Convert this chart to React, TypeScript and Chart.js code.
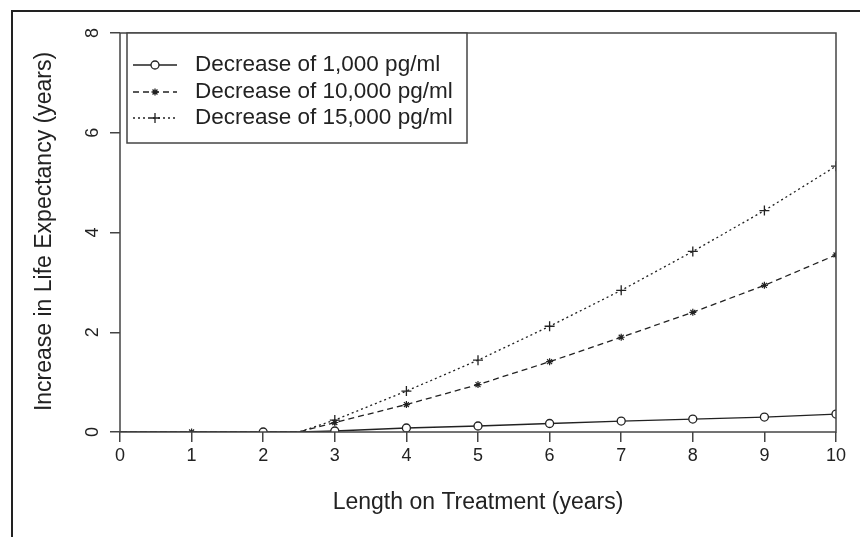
import React, { useEffect, useRef } from "react";
import { Chart, registerables } from "chart.js";
Chart.register(...registerables);

const xValues = [0, 1, 2, 2.5, 3, 4, 5, 6, 7, 8, 9, 10];
const decrease1000 = [0, 0, 0, 0, 0.02, 0.08, 0.12, 0.17, 0.22, 0.26, 0.3, 0.36];
const decrease10000 = [0, 0, 0, 0, 0.19, 0.55, 0.95, 1.41, 1.9, 2.4, 2.94, 3.55];
const decrease15000 = [0, 0, 0, 0, 0.24, 0.82, 1.44, 2.12, 2.84, 3.62, 4.44, 5.33];
const seriesLabels = ["Decrease of 1,000 pg/ml", "Decrease of 10,000 pg/ml", "Decrease of 15,000 pg/ml"];
const xTicks = [0, 1, 2, 3, 4, 5, 6, 7, 8, 9, 10];
const yTicks = [0, 2, 4, 6, 8];
const xTitle = "Length on Treatment (years)";
const yTitle = "Increase in Life Expectancy (years)";

const FONT = '"Liberation Sans", Arial, sans-serif';
const INK = "#222";

function radii(start: number) {
  return xValues.map((x) => (x === 2.5 || x < start ? 0 : 1));
}

function drawMarker(ctx: CanvasRenderingContext2D, kind: string, x: number, y: number) {
  ctx.save();
  ctx.setLineDash([]);
  ctx.strokeStyle = INK;
  ctx.lineWidth = 1.3;
  ctx.beginPath();
  if (kind === "circle") {
    ctx.fillStyle = "#fff";
    ctx.arc(x, y, 4, 0, Math.PI * 2);
    ctx.fill();
    ctx.stroke();
  } else if (kind === "star") {
    const r = 3.5;
    ctx.moveTo(x - r, y); ctx.lineTo(x + r, y);
    ctx.moveTo(x, y - r); ctx.lineTo(x, y + r);
    const d = r * 0.707;
    ctx.moveTo(x - d, y - d); ctx.lineTo(x + d, y + d);
    ctx.moveTo(x - d, y + d); ctx.lineTo(x + d, y - d);
    ctx.stroke();
  } else {
    const r = 5;
    ctx.moveTo(x - r, y); ctx.lineTo(x + r, y);
    ctx.moveTo(x, y - r); ctx.lineTo(x, y + r);
    ctx.stroke();
  }
  ctx.restore();
}

const decorPlugin = {
  id: "decor",
  afterDraw(chart: any) {
    const ctx: CanvasRenderingContext2D = chart.ctx;
    const { left, right, top, bottom } = chart.chartArea;
    const ys = chart.scales.y;
    ctx.save();
    // outer frame
    ctx.strokeStyle = "#222";
    ctx.lineWidth = 2;
    ctx.beginPath();
    ctx.moveTo(12, 537);
    ctx.lineTo(12, 11);
    ctx.lineTo(860, 11);
    ctx.stroke();
    // plot box
    ctx.strokeStyle = "#444";
    ctx.lineWidth = 1.5;
    ctx.strokeRect(left, top, right - left, bottom - top);
    // y tick labels rotated
    ctx.fillStyle = INK;
    ctx.font = `18px ${FONT}`;
    ctx.textAlign = "center";
    ctx.textBaseline = "middle";
    yTicks.forEach((v) => {
      const py = ys.getPixelForValue(v);
      ctx.save();
      ctx.translate(93, py);
      ctx.rotate(-Math.PI / 2);
      ctx.fillText(String(v), 0, 0);
      ctx.restore();
    });
    // titles
    ctx.font = `23px ${FONT}`;
    ctx.fillText(xTitle, (left + right) / 2, 503);
    ctx.save();
    ctx.translate(45, (top + bottom) / 2 - 1);
    ctx.rotate(-Math.PI / 2);
    ctx.fillText(yTitle, 0, 0);
    ctx.restore();
    // legend
    ctx.fillStyle = "#fff";
    ctx.fillRect(127, top, 340, 110);
    ctx.strokeStyle = "#444";
    ctx.lineWidth = 1.5;
    ctx.strokeRect(127, top, 340, 110);
    const rowsY = [65, 92, 118];
    const kinds = ["circle", "star", "plus"];
    chart.data.datasets.forEach((ds: any, i: number) => {
      const y = rowsY[i];
      ctx.save();
      ctx.strokeStyle = INK;
      ctx.lineWidth = 1.3;
      ctx.setLineDash(ds.borderDash || []);
      ctx.beginPath();
      ctx.moveTo(133, y);
      ctx.lineTo(177, y);
      ctx.stroke();
      ctx.restore();
      drawMarker(ctx, kinds[i], 155, y);
      ctx.fillStyle = INK;
      ctx.font = `22.5px ${FONT}`;
      ctx.textAlign = "left";
      ctx.textBaseline = "middle";
      ctx.fillText(ds.label, 195, y);
    });
    ctx.restore();
  },
};

export default function App() {
  const ref = useRef<HTMLCanvasElement | null>(null);
  useEffect(() => {
    if (!ref.current) return;
    const mk = (vals: number[]) => xValues.map((x, i) => ({ x, y: vals[i] }));
    const chart = new Chart(ref.current, {
      type: "line",
      data: {
        datasets: [
          {
            label: seriesLabels[0],
            data: mk(decrease1000),
            borderColor: INK,
            borderWidth: 1.3,
            pointStyle: "circle",
            pointRadius: radii(2).map((r) => r * 4),
            pointBackgroundColor: "#fff",
            pointBorderColor: INK,
            pointBorderWidth: 1.3,
          },
          {
            label: seriesLabels[1],
            data: mk(decrease10000),
            borderColor: INK,
            borderWidth: 1.3,
            borderDash: [6, 4],
            pointStyle: "star",
            pointRadius: radii(1).map((r) => r * 3.5),
            pointBorderColor: INK,
            pointBorderWidth: 1.2,
          },
          {
            label: seriesLabels[2],
            data: mk(decrease15000),
            borderColor: INK,
            borderWidth: 1.3,
            borderDash: [2, 3],
            pointStyle: "cross",
            pointRadius: radii(3).map((r) => r * 5),
            pointBorderColor: INK,
            pointBorderWidth: 1.3,
          },
        ],
      },
      options: {
        responsive: false,
        animation: false,
        layout: { padding: { top: 33, right: 24, left: 0, bottom: 0 } },
        plugins: { legend: { display: false }, tooltip: { enabled: false } },
        elements: { line: { tension: 0 } },
        scales: {
          x: {
            type: "linear",
            min: 0,
            max: 10,
            afterFit: (s: any) => { s.height = 105; },
            afterBuildTicks: (s: any) => { s.ticks = xTicks.map((v) => ({ value: v })); },
            grid: { drawOnChartArea: false, tickLength: 10, color: "#444", lineWidth: 1.5 },
            border: { display: false },
            ticks: { color: INK, font: { family: FONT, size: 18 }, padding: 3, maxRotation: 0 },
          },
          y: {
            type: "linear",
            min: 0,
            max: 8,
            afterFit: (s: any) => { s.width = 120; },
            afterBuildTicks: (s: any) => { s.ticks = yTicks.map((v) => ({ value: v })); },
            grid: { drawOnChartArea: false, tickLength: 10, color: "#444", lineWidth: 1.5 },
            border: { display: false },
            ticks: { color: "rgba(0,0,0,0)", font: { family: FONT, size: 18 } },
          },
        },
      },
      plugins: [decorPlugin],
    });
    return () => chart.destroy();
  }, []);
  return (
    <div style={{ position: "fixed", left: 0, top: 0, width: 860, height: 537, background: "#fff" }}>
      <canvas ref={ref} width={860} height={537} style={{ width: 860, height: 537, display: "block" }} />
    </div>
  );
}
